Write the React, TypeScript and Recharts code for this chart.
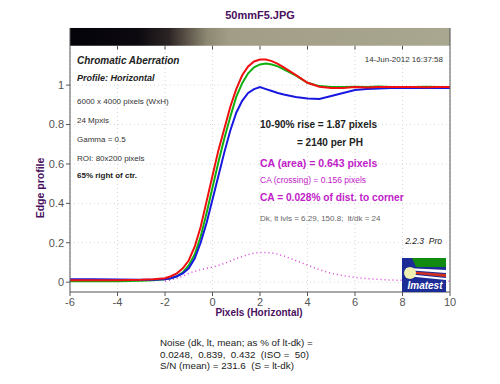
import React from 'react';
import { LineChart, Line, XAxis, YAxis, CartesianGrid, ReferenceArea, ReferenceLine } from 'recharts';

// pixel positions across the edge (x axis)
const xs = [-6, -5, -4, -3, -2.5, -2, -1.75, -1.5, -1.25, -1, -0.75, -0.5, -0.25, 0, 0.25, 0.5, 0.75, 1, 1.25, 1.5,
    1.75, 2, 2.25, 2.5, 2.75, 3, 3.5, 4, 4.5, 5, 5.5, 6, 6.5, 7, 7.5, 8, 8.5, 9, 9.5, 10];

const redProfile = [0.01, 0.01, 0.01, 0.012, 0.015, 0.02, 0.03, 0.045, 0.07, 0.11, 0.18, 0.28, 0.41, 0.54, 0.67, 0.78, 0.89, 0.98, 1.05, 1.095,
    1.12, 1.13, 1.13, 1.122, 1.108, 1.09, 1.052, 1.012, 0.992, 0.985, 0.986, 0.99, 0.988, 0.99, 0.99, 0.99, 0.99, 0.989, 0.99, 0.99];

const greenProfile = [0.005, 0.005, 0.005, 0.007, 0.01, 0.015, 0.02, 0.03, 0.05, 0.085, 0.14, 0.23, 0.35, 0.48, 0.61, 0.73, 0.84, 0.94, 1.01, 1.06,
    1.09, 1.105, 1.11, 1.105, 1.095, 1.08, 1.05, 1.012, 0.995, 0.99, 0.99, 0.992, 0.99, 0.993, 0.99, 0.991, 0.99, 0.992, 0.99, 0.99];

const blueProfile = [0.015, 0.015, 0.013, 0.012, 0.012, 0.015, 0.02, 0.03, 0.045, 0.07, 0.12, 0.2, 0.3, 0.42, 0.54, 0.66, 0.77, 0.86, 0.92, 0.96,
    0.98, 0.99, 0.98, 0.97, 0.96, 0.952, 0.94, 0.932, 0.93, 0.945, 0.96, 0.975, 0.98, 0.983, 0.985, 0.985, 0.986, 0.985, 0.986, 0.985];

// CA difference curve (dotted magenta)
const caProfile = [null, null, null, null, null, 0.005, 0.012, 0.02, 0.03, 0.045, 0.055, 0.063, 0.07, 0.076, 0.085, 0.095, 0.107, 0.12, 0.13, 0.14,
    0.147, 0.15, 0.15, 0.148, 0.142, 0.133, 0.11, 0.086, 0.063, 0.045, 0.033, 0.024, 0.018, 0.014, 0.011, 0.009, 0.007, 0.006, 0.005, 0.005];

const xTicks = [-6, -4, -2, 0, 2, 4, 6, 8, 10];
const yTicks = [0, 0.2, 0.4, 0.6, 0.8, 1];

const data = xs.map((x, i) => ({ x, r: redProfile[i], g: greenProfile[i], b: blueProfile[i], ca: caProfile[i] }));

const FONT = 'Arial, "Liberation Sans", sans-serif';
const PURPLE = '#4a1060';
const MAGENTA = '#c020c8';

function T({ x, y, size, children, color = '#222', bold = false, italic = false, anchor = 'left' }: any) {
    const tx = anchor === 'right' ? '-100%' : anchor === 'center' ? '-50%' : '0';
    return (
        <div style={{
            position: 'absolute', left: x, top: y, transform: `translate(${tx}, -50%)`, whiteSpace: 'nowrap',
            fontFamily: FONT, fontSize: size, lineHeight: 1, color,
            fontWeight: bold ? 'bold' : 'normal', fontStyle: italic ? 'italic' : 'normal',
        }}>{children}</div>
    );
}

function Logo() {
    return (
        <svg width={44} height={34} style={{ position: 'absolute', left: 402, top: 258 }}>
            <rect x={0} y={0} width={44} height={34} fill="#1c2c96" />
            <polygon points="10,0 44,0 44,9 14,9" fill="#108a10" />
            <polygon points="4,10 44,12 44,15 4,12" fill="#ffffff" />
            <polygon points="4,13 44,16 44,19 4,15" fill="#d03020" />
            <polygon points="4,16 44,20 44,22 4,18" fill="#ffffff" />
            <circle cx={8} cy={15} r={6} fill="#f0f0b0" />
            <text x={23} y={31} textAnchor="middle" fontFamily={FONT} fontSize={10} fontWeight="bold" fontStyle="italic" fill="#ffffff">Imatest</text>
        </svg>
    );
}

export default function App() {
    return (
        <div style={{ position: 'absolute', left: 0, top: 0, width: 500, height: 384, background: '#fff' }}>
            <LineChart width={500} height={384} data={data} margin={{ top: 28, right: 50, bottom: 72, left: 0 }}>
                <defs>
                    <linearGradient id="edgeStrip" x1="0" y1="0" x2="1" y2="0">
                        <stop offset="0" stopColor="#05030a" />
                        <stop offset="0.18" stopColor="#0c0a10" />
                        <stop offset="0.26" stopColor="#2c2424" />
                        <stop offset="0.31" stopColor="#5e564a" />
                        <stop offset="0.36" stopColor="#8c8872" />
                        <stop offset="0.42" stopColor="#a19d86" />
                        <stop offset="1" stopColor="#aaa790" />
                    </linearGradient>
                </defs>
                <CartesianGrid stroke="#d8d8d8" strokeDasharray="1 3" />
                <XAxis dataKey="x" type="number" domain={[-6, 10]} ticks={xTicks} height={20}
                    tick={{ fill: '#555', fontSize: 11, fontFamily: FONT }} stroke="#555" tickSize={4} />
                <XAxis xAxisId="top" orientation="top" dataKey="x" type="number" domain={[-6, 10]} ticks={xTicks}
                    height={0} tick={false} stroke="#555" />
                <YAxis type="number" domain={[-0.05, 1.29]} ticks={yTicks} width={70} allowDataOverflow
                    tick={{ fill: '#555', fontSize: 11, fontFamily: FONT }} stroke="#555" tickSize={4} />
                <YAxis yAxisId="right" orientation="right" type="number" domain={[-0.05, 1.29]} ticks={yTicks} width={1}
                    mirror tickFormatter={() => ''} stroke="#555" tickSize={4} />
                <ReferenceArea x1={-6} x2={10} y1={1.2} y2={1.29} fill="url(#edgeStrip)" fillOpacity={1} stroke="none" />
                {xTicks.slice(1, -1).map(t => (
                    <ReferenceLine key={t} segment={[{ x: t, y: 1.2 }, { x: t, y: 1.18 }]} stroke="#555" />
                ))}
                <Line dataKey="ca" stroke="#d840d8" strokeWidth={1.5} strokeDasharray="1 3" dot={false} isAnimationActive={false} />
                <Line dataKey="g" stroke="#10b010" strokeWidth={2} dot={false} isAnimationActive={false} />
                <Line dataKey="b" stroke="#1818e0" strokeWidth={2} dot={false} isAnimationActive={false} />
                <Line dataKey="r" stroke="#f01010" strokeWidth={2} dot={false} isAnimationActive={false} />
            </LineChart>

            <T x={260} y={15} size={11} bold color={PURPLE} anchor="center">50mmF5.JPG</T>
            <div style={{
                position: 'absolute', left: 40, top: 188, transform: 'translate(-50%, -50%) rotate(-90deg)',
                fontFamily: FONT, fontSize: 10.5, fontWeight: 'bold', color: PURPLE, whiteSpace: 'nowrap', lineHeight: 1,
            }}>Edge profile</div>
            <T x={259} y={313} size={10} bold color={PURPLE} anchor="center">Pixels (Horizontal)</T>

            <T x={77} y={61} size={10} bold italic>Chromatic Aberration</T>
            <T x={77} y={78} size={9} bold italic>Profile: Horizontal</T>
            <T x={77} y={102} size={8} color="#333">6000 x 4000 pixels (WxH)</T>
            <T x={77} y={121} size={8} color="#333">24 Mpxls</T>
            <T x={77} y={140} size={8} color="#333">Gamma = 0.5</T>
            <T x={77} y={159} size={8} color="#333">ROI: 80x200 pixels</T>
            <T x={77} y={176} size={8} bold>65% right of ctr.</T>
            <T x={443} y={60} size={8} color="#333" anchor="right">14-Jun-2012 16:37:58</T>

            <T x={260} y={125} size={10} bold color="#222">10-90% rise = 1.87 pixels</T>
            <T x={297} y={143} size={10} bold color="#222">= 2140 per PH</T>
            <T x={260} y={163} size={10.5} bold color={MAGENTA}>CA (area) = 0.643 pixels</T>
            <T x={260} y={180} size={8.5} color={MAGENTA}>CA (crossing) = 0.156 pixels</T>
            <T x={260} y={198} size={10.2} bold color={MAGENTA}>CA = 0.028% of dist. to corner</T>
            <T x={260} y={219} size={8} color="#666">Dk, lt lvls = 6.29, 150.8;&nbsp; lt/dk = 24</T>
            <T x={442} y={241} size={8.5} italic color="#222" anchor="right">2.2.3&nbsp; Pro</T>
            <Logo />

            <T x={160} y={343} size={9.8}>Noise (dk, lt, mean; as % of lt-dk) =</T>
            <T x={160} y={355} size={9.8}>0.0248,&nbsp; 0.839,&nbsp; 0.432&nbsp; (ISO =&nbsp; 50)</T>
            <T x={160} y={366} size={9.8}>S/N (mean) = 231.6&nbsp; (S = lt-dk)</T>
        </div>
    );
}
